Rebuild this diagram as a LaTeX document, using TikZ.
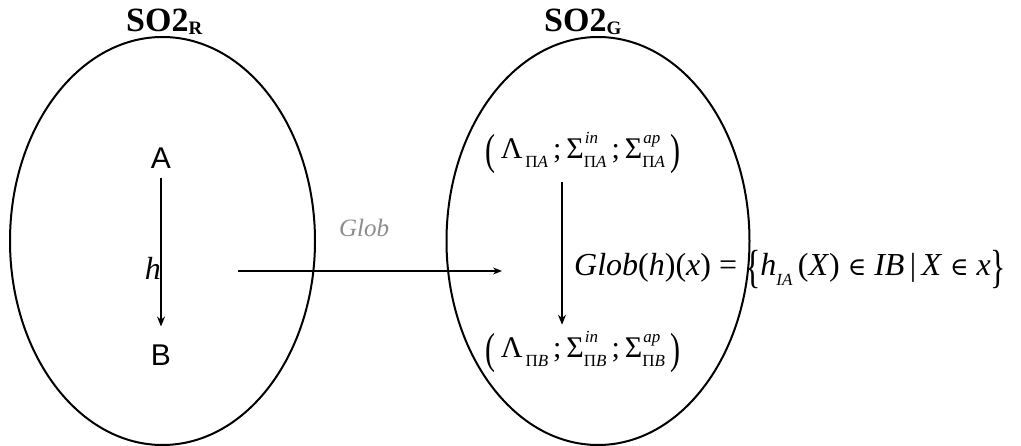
\documentclass[tikz,border=0pt]{standalone}
\usepackage{graphicx}
\usepackage{fontspec}
\setmainfont{Liberation Serif}
\setsansfont{Liberation Sans}
\newfontfamily\symf{DejaVu Serif}
\usetikzlibrary{shapes.geometric,arrows.meta}
\newcommand{\ti}[1]{\textit{#1}}
\newcommand{\lowr}[1]{\raisebox{-0.3em}{\fontsize{17}{18}\selectfont #1}}
\newcommand{\subsup}[2]{\makebox[0pt][l]{\hspace{1pt}\raisebox{0.5em}{\fontsize{17}{18}\selectfont\itshape #2}}\lowr{#1}}
\newcommand{\bigp}[1]{\raisebox{-0.22em}{\scalebox{1}[1.45]{#1}}}
\newcommand{\elem}{{\symf\fontsize{25}{26}\selectfont ∈}}
\tikzset{
  oval/.style={draw, ellipse, line width=2pt, inner sep=0pt},
  ttl/.style={font=\fontsize{34}{38}\selectfont\bfseries, inner sep=0pt},
  lbl/.style={font=\fontsize{30}{34}\selectfont\sffamily, inner sep=0pt},
  mth/.style={font=\fontsize{32}{36}\selectfont, inner sep=0pt},
  tup/.style={font=\fontsize{30}{34}\selectfont, inner sep=0pt},
  arr/.style={-{Stealth[length=10pt,width=8pt]}, line width=1.2pt},
}
\begin{document}
\begin{tikzpicture}[x=1pt,y=-1pt]
\useasboundingbox (0,0) rectangle (1021,446);
% ellipses
\node[oval, minimum width=305pt, minimum height=408pt] (L) at (162.5,241) {};
\node[oval, minimum width=303pt, minimum height=408pt] (R) at (598,241) {};
% titles
\node[ttl, anchor=base west] (tR) at (126,32) {SO2\raisebox{-3pt}{\fontsize{19}{20}\selectfont R}};
\node[ttl, anchor=base west] (tG) at (544,32) {SO2\raisebox{-3pt}{\fontsize{19}{20}\selectfont G}};
% left
\node[lbl] (A) at (161,158) {A};
\node[lbl] (B) at (161,355) {B};
\draw[arr] ([yshift=-9pt]A.south) -- ([yshift=18pt]B.north);
\node[mth, anchor=east] (h) at (161,268) {\ti{h}};
% horizontal
\coordinate (s) at (238,271);
\coordinate (e) at (502,271);
\draw[arr, -{Stealth[length=9pt,width=7pt]}, line width=1.1pt] (s) -- (e);
\node[font=\fontsize{25}{28}\selectfont\itshape, text=black!45, inner sep=0pt] (gl) at (364,228) {Glob};
% right
\node[tup] (TA) at (583,153) {\bigp{(}\,Λ\lowr{\,Π\ti{A}}\,;\,Σ\subsup{Π\ti{A}}{in}\,;\,Σ\subsup{Π\ti{A}}{ap}\,\bigp{)}};
\node[tup] (TB) at (583,352) {\bigp{(}\,Λ\lowr{\,Π\ti{B}}\,;\,Σ\subsup{Π\ti{B}}{in}\,;\,Σ\subsup{Π\ti{B}}{ap}\,\bigp{)}};
\draw[arr] ([xshift=-21pt,yshift=-8pt]TA.south) -- ([xshift=-21pt,yshift=6pt]TB.north);
\node[mth, anchor=west] (F) at (574,270) {\ti{Glob}(\ti{h})(\ti{x}) = \bigp{\{}\ti{h}\lowr{\ti{IA}}\,(\ti{X})\ \elem\ \ti{IB}\,|\,\ti{X}\ \elem\ \ti{x}\bigp{\}}};
\end{tikzpicture}
\end{document}
